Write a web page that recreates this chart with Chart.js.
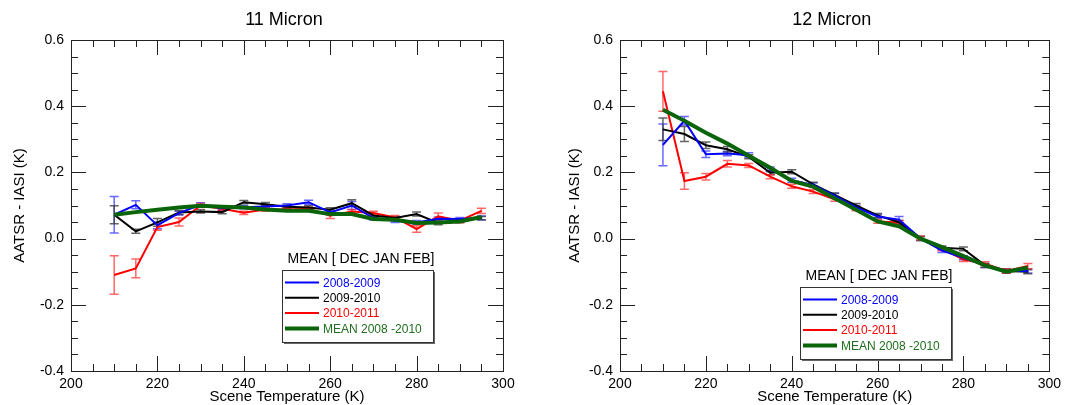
<!DOCTYPE html>
<html>
<head>
<meta charset="utf-8">
<script src="https://cdn.jsdelivr.net/npm/chart.js@4.4.1/dist/chart.umd.min.js"></script>
<style>
  body { margin: 0; background: #fff; }
  #wrap { position: relative; width: 1066px; height: 405px; }
  canvas { position: absolute; top: 0; }
</style>
</head>
<body>
<div id="wrap">
  <canvas id="c11" width="533" height="405" style="left:0"></canvas>
  <canvas id="c12" width="533" height="405" style="left:533px"></canvas>
</div>
<script>
// scene temperature bins (K)
var temps = [210,215,220,225,230,235,240,245,250,255,260,265,270,275,280,285,290,295];
var xTicks = [200,220,240,260,280,300];
var yTicks = [-0.4,-0.2,0.0,0.2,0.4,0.6];
var seriesNames = ['2008-2009','2009-2010','2010-2011','MEAN 2008 -2010'];

// 11 micron
var m11_0809 = [0.072,0.102,0.040,0.077,0.102,0.092,0.095,0.097,0.100,0.110,0.079,0.100,0.062,0.054,0.049,0.060,0.059,0.062];
var m11_0910 = [0.072,0.022,0.049,0.079,0.082,0.080,0.110,0.104,0.096,0.094,0.087,0.107,0.070,0.062,0.074,0.047,0.054,0.062];
var m11_1011 = [-0.110,-0.090,0.035,0.050,0.100,0.090,0.078,0.088,0.088,0.090,0.069,0.082,0.077,0.064,0.029,0.067,0.054,0.084];
var m11_mean = [0.072,0.080,0.087,0.094,0.099,0.096,0.094,0.088,0.084,0.084,0.074,0.074,0.059,0.057,0.047,0.049,0.052,0.065];
var e11_0809 = [0.055,0.012,0.010,0.006,0.006,0.005,0.005,0.005,0.005,0.006,0.006,0.012,0.006,0.005,0.006,0.005,0.005,0.006];
var e11_0910 = [0.027,0.006,0.012,0.006,0.005,0.005,0.005,0.005,0.005,0.005,0.006,0.010,0.006,0.005,0.006,0.005,0.005,0.005];
var e11_1011 = [0.058,0.028,0.010,0.012,0.006,0.005,0.005,0.005,0.005,0.005,0.008,0.006,0.006,0.006,0.010,0.010,0.006,0.008];

// 12 micron
var m12_0809 = [0.283,0.356,0.255,0.257,0.252,0.209,0.176,0.162,0.130,0.094,0.067,0.057,0.000,-0.036,-0.058,-0.081,-0.098,-0.098];
var m12_0910 = [0.330,0.316,0.282,0.270,0.247,0.199,0.202,0.164,0.132,0.100,0.070,0.049,0.000,-0.028,-0.031,-0.081,-0.098,-0.100];
var m12_1011 = [0.445,0.174,0.187,0.226,0.221,0.187,0.158,0.142,0.119,0.090,0.052,0.049,0.002,-0.031,-0.063,-0.076,-0.098,-0.083];
var m12_mean = [0.389,0.356,0.320,0.287,0.250,0.214,0.174,0.157,0.122,0.087,0.052,0.037,0.000,-0.026,-0.053,-0.081,-0.100,-0.088];
var e12_0809 = [0.063,0.013,0.010,0.007,0.007,0.007,0.006,0.006,0.006,0.006,0.006,0.010,0.006,0.006,0.006,0.006,0.006,0.006];
var e12_0910 = [0.034,0.023,0.010,0.008,0.006,0.006,0.006,0.006,0.006,0.006,0.006,0.006,0.006,0.006,0.006,0.006,0.006,0.006];
var e12_1011 = [0.060,0.025,0.010,0.010,0.006,0.006,0.006,0.006,0.006,0.006,0.006,0.006,0.006,0.006,0.006,0.006,0.006,0.008];

var FONT = "'Liberation Sans', Arial, Helvetica, sans-serif";
var colors = ['#0000ff','#000000','#ff0000','#0a640a'];
var errColors = ['rgba(40,40,255,0.7)','rgba(60,60,60,0.8)','rgba(255,40,40,0.7)', null];
var legendText = ['#0000ff','#000000','#ff0000','#1e6e1e'];

function pts(v) { return temps.map(function (t, i) { return { x: t, y: v[i] }; }); }

// frame with inward ticks on all four sides
var framePlugin = {
  id: 'frame',
  afterDraw: function (chart) {
    var a = chart.chartArea, ctx = chart.ctx, xs = chart.scales.x, ys = chart.scales.y;
    ctx.save();
    ctx.strokeStyle = '#222'; ctx.lineWidth = 1;
    ctx.strokeRect(Math.round(a.left) + 0.5, Math.round(a.top) + 0.5, Math.round(a.right - a.left), Math.round(a.bottom - a.top));
    ctx.beginPath();
    for (var t = 200; t <= 300; t += 5) {
      var px = Math.round(xs.getPixelForValue(t)) + 0.5;
      var len = (t % 20 === 0) ? 15 : 7;
      ctx.moveTo(px, a.bottom); ctx.lineTo(px, a.bottom - len);
      ctx.moveTo(px, a.top); ctx.lineTo(px, a.top + len);
    }
    for (var k = -8; k <= 12; k++) {
      var py = Math.round(ys.getPixelForValue(k * 0.05)) + 0.5;
      var l2 = (k % 4 === 0) ? 15 : 7;
      ctx.moveTo(a.left, py); ctx.lineTo(a.left + l2, py);
      ctx.moveTo(a.right, py); ctx.lineTo(a.right - l2, py);
    }
    ctx.stroke();
    ctx.restore();
  }
};

// error bars drawn under the lines
var errorPlugin = {
  id: 'errs',
  beforeDatasetsDraw: function (chart) {
    var ctx = chart.ctx, xs = chart.scales.x, ys = chart.scales.y;
    ctx.save();
    ctx.lineWidth = 1.5;
    chart.data.datasets.forEach(function (ds) {
      if (!ds.err) return;
      ctx.strokeStyle = ds.errColor;
      ctx.beginPath();
      ds.data.forEach(function (p, i) {
        var x = xs.getPixelForValue(p.x);
        var y1 = ys.getPixelForValue(p.y + ds.err[i]);
        var y2 = ys.getPixelForValue(p.y - ds.err[i]);
        ctx.moveTo(x, y1); ctx.lineTo(x, y2);
        ctx.moveTo(x - 4.5, y1); ctx.lineTo(x + 4.5, y1);
        ctx.moveTo(x - 4.5, y2); ctx.lineTo(x + 4.5, y2);
      });
      ctx.stroke();
    });
    ctx.restore();
  }
};

// titles, axis titles and the boxed legend
var textPlugin = {
  id: 'texts',
  afterDraw: function (chart) {
    var o = chart.options.plugins.texts, a = chart.chartArea, ctx = chart.ctx;
    var cx = (a.left + a.right) / 2;
    ctx.save();
    ctx.fillStyle = '#000';
    ctx.textAlign = 'center'; ctx.textBaseline = 'middle';
    ctx.font = '18px ' + FONT;
    ctx.fillText(o.title, cx - 3, 20);
    ctx.font = '15px ' + FONT;
    ctx.fillText('Scene Temperature (K)', cx, 397);
    ctx.save();
    ctx.translate(o.yTitleX, (a.top + a.bottom) / 2);
    ctx.rotate(-Math.PI / 2);
    ctx.fillText('AATSR - IASI (K)', 0, 0);
    ctx.restore();

    // legend
    var bx = a.left + o.legX, by = a.top + o.legY, bw = 151, bh = 72;
    ctx.font = '14px ' + FONT;
    ctx.fillText('MEAN [ DEC JAN FEB]', bx + 79, by - 11);
    ctx.fillStyle = '#666';
    ctx.fillRect(bx + 2, by + 2, bw, bh);
    ctx.fillStyle = '#fff';
    ctx.fillRect(bx, by, bw, bh);
    ctx.strokeStyle = '#333'; ctx.lineWidth = 1;
    ctx.strokeRect(bx + 0.5, by + 0.5, bw, bh);
    ctx.textAlign = 'left';
    ctx.font = '12px ' + FONT;
    seriesNames.forEach(function (n, i) {
      var ry = by + 12.5 + i * 15.3;
      ctx.strokeStyle = colors[i];
      ctx.lineWidth = i === 3 ? 4 : 2;
      ctx.beginPath(); ctx.moveTo(bx + 3, ry); ctx.lineTo(bx + 37, ry); ctx.stroke();
      ctx.fillStyle = legendText[i];
      ctx.fillText(n, bx + 41, ry + 1);
    });
    ctx.restore();
  }
};

function makePanel(id, title, vals, errs, leftW, rightPad, yTitleX, legX, legY) {
  var order = [3, 0, 1, 2];
  var datasets = order.map(function (i) {
    return {
      label: seriesNames[i],
      data: pts(vals[i]),
      err: errs[i],
      errColor: errColors[i],
      borderColor: colors[i],
      borderWidth: i === 3 ? 4 : 2,
      pointRadius: 0,
      tension: 0,
      fill: false
    };
  });
  new Chart(document.getElementById(id), {
    type: 'line',
    data: { datasets: datasets },
    plugins: [errorPlugin, framePlugin, textPlugin],
    options: {
      responsive: false,
      animation: false,
      devicePixelRatio: 1,
      layout: { padding: { top: 40, right: rightPad, left: 0, bottom: 0 } },
      plugins: {
        legend: { display: false },
        tooltip: { enabled: false },
        texts: { title: title, yTitleX: yTitleX, legX: legX, legY: legY }
      },
      scales: {
        x: {
          type: 'linear', min: 200, max: 300,
          afterBuildTicks: function (s) { s.ticks = xTicks.map(function (v) { return { value: v }; }); },
          afterFit: function (s) { s.height = 34; },
          grid: { display: false, drawTicks: false },
          border: { display: false },
          ticks: { padding: 5, color: '#000', font: { size: 14, family: FONT }, maxRotation: 0 }
        },
        y: {
          type: 'linear', min: -0.4, max: 0.6,
          afterBuildTicks: function (s) { s.ticks = yTicks.map(function (v) { return { value: v }; }); },
          afterFit: function (s) { s.width = leftW; },
          grid: { display: false, drawTicks: false },
          border: { display: false },
          ticks: {
            padding: 7, color: '#000', font: { size: 14, family: FONT },
            callback: function (v) { return Number(v).toFixed(1); }
          }
        }
      }
    }
  });
}

makePanel('c11', '11 Micron',
  [m11_0809, m11_0910, m11_1011, m11_mean],
  [e11_0809, e11_0910, e11_1011, null],
  71, 30, 20, 211, 230);

makePanel('c12', '12 Micron',
  [m12_0809, m12_0910, m12_1011, m12_mean],
  [e12_0809, e12_0910, e12_1011, null],
  87, 15, 42, 180, 247);
</script>
</body>
</html>
